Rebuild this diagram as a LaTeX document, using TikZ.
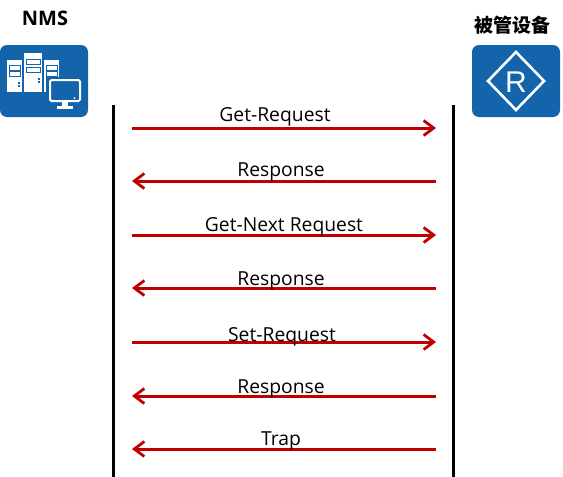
\documentclass[tikz,border=0pt]{standalone}
\usepackage{fontspec}
\setmainfont{Open Sans}
\newfontfamily\cjk{Noto Sans CJK SC}
\newfontfamily\routerfont{Liberation Sans}
\usetikzlibrary{arrows.meta}
\definecolor{iconblue}{RGB}{20,100,172}
\definecolor{msgred}{RGB}{192,0,0}
\tikzset{
    lifeline/.style={line width=3pt,black},
    msgline/.style={line width=3pt,msgred,-{Straight Barb[length=10pt,width=15pt,line width=2.8pt]}},
    msglabel/.style={font=\fontsize{19.3}{22}\selectfont,inner sep=0pt},
    icon/.style={fill=iconblue,rounded corners=7pt},
    title/.style={font=\fontsize{20}{22}\selectfont\bfseries,inner sep=0pt}
}
\begin{document}
\begin{tikzpicture}[x=1pt,y=-1pt]
        \useasboundingbox (0,0) rectangle (563,477);
        % lifelines
        \coordinate (NT) at (113.5,105); \coordinate (NB) at (113.5,477);
        \coordinate (DT) at (453,105); \coordinate (DB) at (453,477);
        \draw[lifeline] (NT) -- (NB);
        \draw[lifeline] (DT) -- (DB);
        % messages
        \foreach \name/\y/\lx/\ly/\txt/\dir in {
            a/128/275/117/Get-Request/r, b/181/281/172/Response/l,
            c/235/284/227/Get-Next Request/r, d/288/281/281/Response/l,
            e/342/282/337/Set-Request/r, f/396/281/389/Response/l,
            g/449/281/441/Trap/l}{
            \coordinate (\name L) at (132,\y); \coordinate (\name R) at (436,\y);
            \if\dir r
                \draw[msgline] (\name L) -- (\name R);
            \else
                \draw[msgline] (\name R) -- (\name L);
            \fi
            \node[msglabel] (\name) at (\lx,\ly) {\txt};
        }
        % NMS icon
        \node[title] (nms) at (45,18) {NMS};
        \fill[icon] (0,45) rectangle (88,117);
        \foreach \xa/\xb/\yt/\sa/\sb in {7/22/60/65/71, 24/42/53/59/67, 44/59/60/65/71}{
            \fill[white] (\xa,\yt) rectangle (\xb,92);
            \foreach \s in {\sa,\sb}
                \draw[iconblue,line width=1pt] (\xa+2,\s) rectangle (\xb-2,\s+5);
            \fill[iconblue] (\xb-4,\sb+11) rectangle (\xb-2,\sb+13);
            \fill[iconblue] (\xb-4,\sb+14) rectangle (\xb-2,\sb+16);
        }
        \fill[iconblue] (46,77) rectangle (84,110);
        \draw[white,line width=2pt,rounded corners=1.5pt,fill=iconblue] (50,80) rectangle (80,101);
        \fill[white] (62,101) rectangle (68,106);
        \fill[white] (57,106) rectangle (73,108.5);
        \fill[white] (74.5,98) circle (1pt);
        % device icon
        \node[title,font=\fontsize{19}{22}\selectfont\bfseries\cjk] (dev) at (512,25) {被管设备};
        \fill[icon] (472,45) rectangle (560,117);
        \draw[white,line width=2.6pt] (516,52) -- (544,81) -- (516,110) -- (488,81) -- cycle;
        \node[inner sep=0pt,white,font=\fontsize{30}{34}\selectfont\routerfont] (r) at (516,82) {R};
    \end{tikzpicture}
\end{document}
